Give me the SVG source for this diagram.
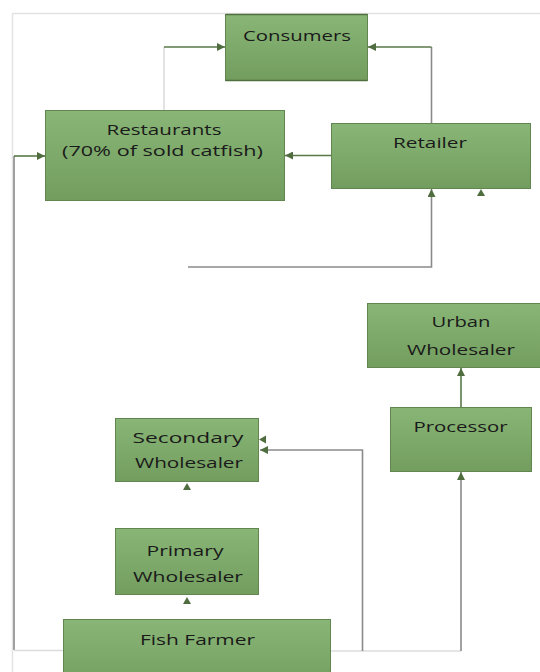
<svg xmlns="http://www.w3.org/2000/svg" width="540" height="672" viewBox="0 0 540 672">
<defs>
<linearGradient id="g" x1="0" y1="0" x2="0" y2="1">
<stop offset="0" stop-color="#89b676"/>
<stop offset="1" stop-color="#729d5f"/>
</linearGradient>
<marker id="ah" viewBox="0 0 8 8" refX="8" refY="4" markerWidth="8" markerHeight="8" markerUnits="userSpaceOnUse" orient="auto">
<path d="M0,0 L8,4 L0,8 Z" fill="#4f6d3f"/>
</marker>
<style>
.box{fill:url(#g);stroke:#62864f;stroke-width:1}
.t{font-family:"Open Sans","Liberation Sans",Arial,sans-serif;font-size:15px;fill:#1a1a1a;text-anchor:middle}
.c{fill:none;stroke-width:1.6}
.gr{stroke:#8a8a8a}
.lg{stroke:#dcdcdc}
.gn{stroke:#587a48}
.hd{fill:#4f6d3f}
</style>
</defs>
<rect width="540" height="672" fill="#ffffff"/>
<rect x="12.5" y="13.5" width="600" height="700" fill="none" stroke="#e2e2e2" stroke-width="1.5"/>

<g id="connectors">
<path class="c lg" d="M164,110 V47"/>
<path class="c gn" d="M164,47 H225" marker-end="url(#ah)"/>
<path class="c gr" d="M431.5,123 V47"/>
<path class="c gn" d="M431.5,47 H368" marker-end="url(#ah)"/>
<path class="c gn" d="M331,155.5 H285" marker-end="url(#ah)"/>
<path class="c gr" d="M14,650 V156"/>
<path class="c gn" d="M14,156 H45" marker-end="url(#ah)"/>
<path class="c lg" d="M14,650.5 H63"/>
<path class="c gr" d="M188,267 H431.5 V189" marker-end="url(#ah)"/>
<polygon class="hd" points="481,189 485,196 477,196"/>
<path class="c gn" d="M461,407 V368" marker-end="url(#ah)"/>
<path class="c lg" d="M331,651 H461"/>
<path class="c gr" d="M461,651 V472" marker-end="url(#ah)"/>
<path class="c gr" d="M362.5,651 V450 H260" marker-end="url(#ah)"/>
<polygon class="hd" points="259,439.5 266,435.5 266,443.5"/>
<polygon class="hd" points="187,483 191,490 183,490"/>
<polygon class="hd" points="187,597 191,604 183,604"/>
</g>

<g id="consumers">
<rect class="box" x="225.5" y="14.5" width="142" height="66"/>
<line x1="225.5" y1="14.5" x2="367.5" y2="14.5" stroke="#50703f" stroke-width="1.5"/>
<line x1="225.5" y1="80.5" x2="367.5" y2="80.5" stroke="#50703f" stroke-width="1.5"/>
<text class="t" x="297" y="41" textLength="108" lengthAdjust="spacingAndGlyphs">Consumers</text>
</g>

<g id="restaurants">
<rect class="box" x="45.5" y="110.5" width="239" height="90"/>
<text class="t" x="164" y="135" textLength="115" lengthAdjust="spacingAndGlyphs">Restaurants</text>
<text class="t" x="162.5" y="156" textLength="201" lengthAdjust="spacingAndGlyphs">(70% of sold catfish)</text>
</g>

<g id="retailer">
<rect class="box" x="331.5" y="123.5" width="199" height="65"/>
<text class="t" x="430" y="148" textLength="74" lengthAdjust="spacingAndGlyphs">Retailer</text>
</g>

<g id="urban-wholesaler">
<rect class="box" x="367.5" y="303.5" width="190" height="64"/>
<text class="t" x="461" y="327" textLength="59" lengthAdjust="spacingAndGlyphs">Urban</text>
<text class="t" x="461" y="355" textLength="108" lengthAdjust="spacingAndGlyphs">Wholesaler</text>
</g>

<g id="processor">
<rect class="box" x="390.5" y="407.5" width="141" height="64"/>
<text class="t" x="460.5" y="432" textLength="94" lengthAdjust="spacingAndGlyphs">Processor</text>
</g>

<g id="secondary-wholesaler">
<rect class="box" x="115.5" y="418.5" width="143" height="63"/>
<text class="t" x="188" y="443" textLength="111" lengthAdjust="spacingAndGlyphs">Secondary</text>
<text class="t" x="189" y="468" textLength="108" lengthAdjust="spacingAndGlyphs">Wholesaler</text>
</g>

<g id="primary-wholesaler">
<rect class="box" x="115.5" y="528.5" width="143" height="66"/>
<text class="t" x="185" y="555.5" textLength="77" lengthAdjust="spacingAndGlyphs">Primary</text>
<text class="t" x="188" y="582" textLength="110" lengthAdjust="spacingAndGlyphs">Wholesaler</text>
</g>

<g id="fish-farmer">
<rect class="box" x="63.5" y="619.5" width="267" height="70"/>
<text class="t" x="197.5" y="645" textLength="115" lengthAdjust="spacingAndGlyphs">Fish Farmer</text>
</g>
</svg>
